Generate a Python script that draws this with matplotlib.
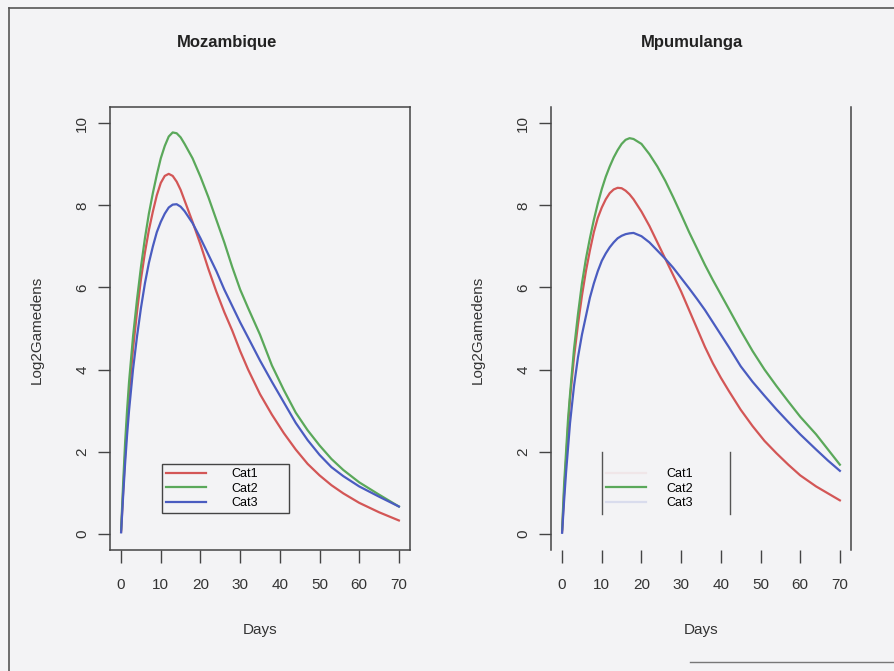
import matplotlib
matplotlib.use("Agg")
import matplotlib.pyplot as plt

plt.rcParams['font.family'] = ['Liberation Sans Narrow', 'Liberation Sans', 'DejaVu Sans']

# Mozambique: days and log2 gametocyte densities per category
moz_days = [0, 0.5, 1, 1.5, 2, 3, 4, 5, 6, 7, 8, 9, 10, 11, 12, 13, 14, 15, 16, 18,
            20, 22, 24, 26, 28, 30, 32, 35, 38, 41, 44, 47, 50, 53, 56, 60, 65, 70]
moz_cat1 = [0.05, 1.0, 1.9, 2.7, 3.4, 4.5, 5.4, 6.2, 6.85, 7.4, 7.85, 8.25, 8.55, 8.72, 8.77, 8.72, 8.58, 8.38, 8.12, 7.6,
            7.05, 6.45, 5.9, 5.4, 4.95, 4.45, 4.0, 3.4, 2.9, 2.45, 2.05, 1.7, 1.42, 1.18, 0.98, 0.75, 0.52, 0.32]
moz_cat2 = [0.1, 1.2, 2.2, 3.0, 3.7, 4.8, 5.7, 6.5, 7.2, 7.8, 8.3, 8.75, 9.15, 9.45, 9.68, 9.78, 9.76, 9.66, 9.5, 9.15,
            8.7, 8.2, 7.65, 7.1, 6.5, 5.95, 5.5, 4.85, 4.1, 3.5, 2.95, 2.52, 2.15, 1.82, 1.55, 1.25, 0.95, 0.66]
moz_cat3 = [0.03, 0.9, 1.7, 2.4, 3.0, 4.0, 4.8, 5.5, 6.1, 6.6, 7.0, 7.35, 7.6, 7.8, 7.95, 8.02, 8.03, 7.97, 7.86, 7.57,
            7.2, 6.8, 6.4, 5.95, 5.55, 5.15, 4.78, 4.22, 3.7, 3.2, 2.7, 2.28, 1.92, 1.62, 1.4, 1.15, 0.9, 0.66]

# Mpumulanga
mpu_days = [0, 0.5, 1, 1.5, 2, 3, 4, 5, 6, 7, 8, 9, 10, 11, 12, 13, 14, 15, 16, 17, 18,
            20, 22, 24, 26, 28, 30, 32, 34, 36, 38, 40, 42, 45, 48, 51, 54, 57, 60, 64, 67, 70]
mpu_cat1 = [0.05, 1.0, 1.8, 2.6, 3.3, 4.3, 5.1, 5.8, 6.4, 6.9, 7.35, 7.7, 7.95, 8.15, 8.3, 8.39, 8.43, 8.42, 8.36, 8.27, 8.15,
            7.85, 7.5, 7.1, 6.7, 6.3, 5.9, 5.45, 5.0, 4.55, 4.15, 3.8, 3.48, 3.02, 2.62, 2.26, 1.96, 1.68, 1.42, 1.15, 0.98, 0.81]
mpu_cat2 = [0.1, 1.2, 2.0, 2.8, 3.4, 4.5, 5.35, 6.1, 6.7, 7.2, 7.65, 8.05, 8.4, 8.7, 8.95, 9.17, 9.35, 9.5, 9.6, 9.64, 9.62,
            9.5, 9.25, 8.95, 8.6, 8.2, 7.78, 7.35, 6.95, 6.55, 6.18, 5.83, 5.48, 4.95, 4.45, 4.0, 3.6, 3.22, 2.85, 2.42, 2.05, 1.68]
mpu_cat3 = [0.02, 0.8, 1.5, 2.1, 2.7, 3.6, 4.3, 4.85, 5.3, 5.75, 6.1, 6.4, 6.65, 6.83, 6.98, 7.1, 7.2, 7.26, 7.3, 7.32, 7.33,
            7.25, 7.1, 6.9, 6.7, 6.48, 6.23, 5.98, 5.72, 5.45, 5.15, 4.85, 4.55, 4.08, 3.7, 3.36, 3.03, 2.72, 2.42, 2.05, 1.78, 1.53]

labels = ['Cat1', 'Cat2', 'Cat3']
colours = ['#d35656', '#5aa85a', '#4a5cc0']
xticks = [0, 10, 20, 30, 40, 50, 60, 70]
yticks = [0, 2, 4, 6, 8, 10]

bg = '#f3f3f5'
ink = '#444444'
W, H = 894, 671

fig = plt.figure(figsize=(8.94, 6.71), dpi=100, facecolor=bg)

# frame around the page
fig.add_artist(plt.Line2D([9 / W, 9 / W], [0, 1 - 8 / H], color='#555555', lw=1.2))
fig.add_artist(plt.Line2D([9 / W, 1], [1 - 8 / H, 1 - 8 / H], color='#555555', lw=1.2))
fig.add_artist(plt.Line2D([690 / W, 1], [1 - 662 / H, 1 - 662 / H], color='#777777', lw=1.0))


def panel(left, title, days, series, title_x, ylab_x, full_box):
    ax = fig.add_axes([left / W, 1 - 550 / H, 300 / W, 443 / H], facecolor=bg)
    for vals, c, lab in zip(series, colours, labels):
        ax.plot(days, vals, color=c, lw=1.6, label=lab)
    ax.set_xlim(-2.8, 72.8)
    ax.set_ylim(-0.4, 10.4)
    ax.set_xticks(xticks)
    ax.set_yticks(yticks)
    ax.tick_params(axis='both', direction='out', length=9, width=1, color=ink,
                   labelsize=11, labelcolor='#333333')
    ax.tick_params(axis='x', pad=11)
    ax.tick_params(axis='y', pad=6)
    plt.setp(ax.get_yticklabels(), rotation=90, va='center')
    for side, sp in ax.spines.items():
        sp.set_color(ink)
        sp.set_linewidth(1.1)
        if not full_box and side in ('top', 'bottom'):
            sp.set_visible(False)
    fig.text(title_x / W, 1 - 42 / H, title, ha='center', va='center',
             fontsize=12, fontweight='bold', color='#222222')
    fig.text((left + 150) / W, 1 - 630 / H, 'Days', ha='center', va='center',
             fontsize=11, color='#333333')
    fig.text(ylab_x / W, 1 - 330 / H, 'Log2Gamedens', ha='center', va='center',
             rotation=90, fontsize=11, color='#333333')
    return ax


ax1 = panel(110, 'Mozambique', moz_days, [moz_cat1, moz_cat2, moz_cat3], 227, 37, True)
ax2 = panel(551, 'Mpumulanga', mpu_days, [mpu_cat1, mpu_cat2, mpu_cat3], 692, 478, False)

leg1 = ax1.legend(loc='lower left', bbox_to_anchor=(0.173, 0.0825, 0.425, 0.14), mode='expand',
                  fontsize=9, handlelength=3.2, handletextpad=2.0, labelspacing=0.2,
                  borderpad=0.35, borderaxespad=0, fancybox=False, framealpha=1)
leg1.get_frame().set_edgecolor(ink)
leg1.get_frame().set_facecolor(bg)
leg1.get_frame().set_linewidth(1.0)

leg2 = ax2.legend(loc='lower left', bbox_to_anchor=(0.17, 0.082, 0.425, 0.14), mode='expand',
                  fontsize=9, handlelength=3.2, handletextpad=1.6, labelspacing=0.2,
                  borderpad=0.35, borderaxespad=0, frameon=False)
# faded handles for Cat1 and Cat3 in the second legend
for h, a in zip(leg2.get_lines(), [0.08, 1.0, 0.15]):
    h.set_alpha(a)
# side bars of the second legend box
for xb in (0.17, 0.595):
    ax2.plot([xb, xb], [0.082, 0.222], transform=ax2.transAxes, color='#555555', lw=1.0,
             clip_on=False)

fig.savefig('out.png', dpi=100, facecolor=bg)
